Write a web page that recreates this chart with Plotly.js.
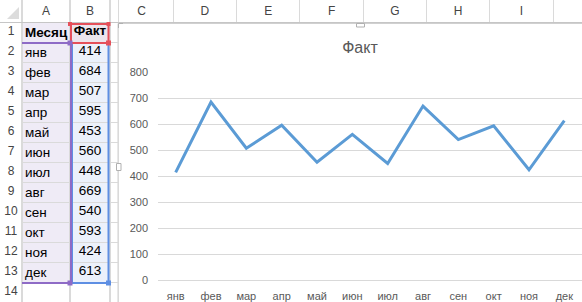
<!DOCTYPE html>
<html><head><meta charset="utf-8">
<script src="https://cdn.plot.ly/plotly-3.0.1.min.js"></script>
<style>html,body{margin:0;padding:0;background:#fff;overflow:hidden}</style>
</head><body><div id="chart" style="width:582px;height:302px"></div>
<script>
// ---- data ----
var months = ['янв','фев','мар','апр','май','июн','июл','авг','сен','окт','ноя','дек'];
var fact = [414,684,507,595,453,560,448,669,540,593,424,613];
var headerA = 'Месяц';
var headerB = 'Факт';
var chartTitle = 'Факт';
var rowLabels = ['1','2','3','4','5','6','7','8','9','10','11','12','13','14'];
var colLetters = ['A','B','C','D','E','F','G','H','I'];
var yTicks = [0,100,200,300,400,500,600,700,800];

// ---- helpers ----
var W = 582, H = 302;
function px(v){ return v / W; }
function py(v){ return 1 - v / H; }
var FAM = 'Liberation Sans, Arial, sans-serif';
var gridC = '#DADADA', hdrLine = '#C6C6C6', hdrText = '#444444', axText = '#595959';
var cellFont = {family: FAM, size: 13.5, color: '#000000'};
var colW = 63.3;
var ROWCOL = 'row';

var bodyRows = rowLabels.slice(0, months.length + 1);

function dummy(xa, ya, xs, ys){
  return {type:'scatter', mode:'markers', x: xs, y: ys, xaxis: xa, yaxis: ya,
          marker:{opacity:0, size:1}, hoverinfo:'skip', showlegend:false};
}

var traces = [];
// chart line
traces.push({type:'scatter', mode:'lines', x: months, y: fact, xaxis:'x', yaxis:'y',
  line:{color:'#5B9BD5', width:3}, hoverinfo:'skip', showlegend:false});
// row numbers
traces.push({type:'scatter', mode:'text', xaxis:'x2', yaxis:'y2',
  x: rowLabels.map(function(){ return ROWCOL; }), y: rowLabels, text: rowLabels,
  textposition:'middle center', textfont:{family: FAM, size: 12, color: hdrText},
  hoverinfo:'skip', showlegend:false, cliponaxis:false});
// column B values
traces.push({type:'scatter', mode:'text', xaxis:'x4', yaxis:'y2',
  x: bodyRows.map(function(){ return colLetters[1]; }), y: bodyRows,
  text: ['<b>' + headerB + '</b>'].concat(fact.map(String)),
  textposition:'middle center', textfont: cellFont, hoverinfo:'skip', showlegend:false, cliponaxis:false});
// invisible anchors so every sheet subplot exists
traces.push(dummy('x3','y2',[colLetters[0]],[rowLabels[0]]));
traces.push(dummy('x5','y2',[colLetters[2]],[rowLabels[0]]));
traces.push(dummy('x2','y3',[ROWCOL],['hdr']));
traces.push(dummy('x3','y3',[colLetters[0]],['hdr']));
traces.push(dummy('x4','y3',[colLetters[1]],['hdr']));
traces.push(dummy('x5','y3',[colLetters[2]],['hdr']));
traces.push(dummy('x6','y3',colLetters.slice(2),colLetters.slice(2).map(function(){return 'hdr';})));

function colAxis(dom, cats, rng, showLabels){
  return {type:'category', categoryorder:'array', categoryarray: cats, domain: dom,
    range: rng, autorange:false, anchor:'y3', side:'bottom', tickson:'boundaries',
    showgrid:true, gridcolor: gridC, gridwidth:1, ticks:'', showline:true, linecolor: hdrLine, linewidth:1,
    showticklabels: showLabels, ticklabelposition:'inside', ticklabelstandoff: 4,
    tickfont:{family: FAM, size: 12, color: hdrText}, fixedrange:true};
}

// column A texts (left aligned in the cell)
var annotations = [headerA].concat(months).map(function(t, i){
  return {xref:'x3', yref:'y2', x: colLetters[0], y: i, text: i === 0 ? '<b>' + t + '</b>' : t,
    xanchor:'left', yanchor:'middle', xshift:-23, showarrow:false, font: cellFont};
});

function rectPx(x0,y0,x1,y1,opts){
  var s = {type:'rect', xref:'paper', yref:'paper', x0:px(x0), x1:px(x1), y0:py(y1), y1:py(y0), layer:'above'};
  for (var k in opts) s[k] = opts[k];
  return s;
}
function pathPx(pts, opts){
  var d = pts.map(function(p, i){ return (i ? 'L' : 'M') + px(p[0]) + ',' + py(p[1]); }).join(' ');
  var s = {type:'path', xref:'paper', yref:'paper', path: d, layer:'above'};
  for (var k in opts) s[k] = opts[k];
  return s;
}

var purple = '#8E6BC6', red = '#E5505A', blue = '#5E8FE3';
var shapes = [
  // cell fills
  {type:'rect', xref:'x3 domain', yref:'y2', x0:0, x1:1, y0:-0.5, y1:12.5, fillcolor:'#EFEBF6', line:{width:0}, layer:'below'},
  {type:'rect', xref:'x4 domain', yref:'y2', x0:0, x1:1, y0:-0.5, y1:0.5, fillcolor:'#ECE5EC', line:{width:0}, layer:'below'},
  {type:'rect', xref:'x4 domain', yref:'y2', x0:0, x1:1, y0:0.5, y1:12.5, fillcolor:'#ECF1FB', line:{width:0}, layer:'below'},
  // corner triangle
  pathPx([[19,7],[19,19],[7,19],[19,7]], {fillcolor:'#DCDCDC', line:{width:0}}),
  // chart area border
  {type:'rect', xref:'paper', yref:'paper', x0:px(118), x1:1.05, y0:-0.05, y1:py(23.5),
    line:{color:'#D0D0D0', width:1}, fillcolor:'#FFFFFF', layer:'below'},
  // range borders
  rectPx(72, 43, 108.5, 283, {line:{color: blue, width:2}, fillcolor:'rgba(0,0,0,0)'}),
  pathPx([[22,43],[71,43],[71,283],[22,283]], {line:{color: purple, width:2}}),
  rectPx(71, 24, 108.5, 43, {line:{color: red, width:2}, fillcolor:'rgba(0,0,0,0)'}),
  // handles
  rectPx(67.5, 40.5, 72.5, 45.5, {fillcolor: purple, line:{width:0}}),
  rectPx(67.5, 280.5, 72.5, 285.5, {fillcolor: purple, line:{width:0}}),
  rectPx(106, 40.5, 111, 45.5, {fillcolor: red, line:{width:0}}),
  rectPx(68, 22, 72, 26, {fillcolor: red, line:{width:0}}),
  rectPx(106.5, 22, 110.5, 26, {fillcolor: red, line:{width:0}}),
  rectPx(106, 280.5, 111, 285.5, {fillcolor: blue, line:{width:0}}),
  // chart sizing handles
  rectPx(356.5, 23.5, 364.5, 27, {fillcolor:'#FFFFFF', line:{color:'#B0B0B0', width:1}}),
  rectPx(116.5, 163.5, 121, 170.5, {fillcolor:'#FFFFFF', line:{color:'#B0B0B0', width:1}}),
  pathPx([[118.5,28],[118.5,23.5],[123,23.5]], {line:{color:'#B0B0B0', width:1}})
];

var layout = {
  width: W, height: H, margin:{l:0, r:0, t:0, b:0, pad:0},
  paper_bgcolor:'#FFFFFF', plot_bgcolor:'rgba(0,0,0,0)',
  showlegend:false, hovermode:false, dragmode:false,
  font:{family: FAM, color: axText},
  title:{text: chartTitle, font:{family: FAM, size:16, color: axText},
    x: px(360), xanchor:'center', xref:'paper', y: py(47), yanchor:'middle', yref:'paper'},
  xaxis:{type:'category', range:[-0.5, 11.5], autorange:false, domain:[px(158), 1], anchor:'y',
    showgrid:false, ticks:'', showline:false,
    tickfont:{family: FAM, size:11, color: axText}, ticklabelstandoff: 8, fixedrange:true},
  yaxis:{range:[0, 800], autorange:false, domain:[py(280), py(72)], anchor:'x', tickvals: yTicks, ticks:'',
    showgrid:true, gridcolor:'#D9D9D9', gridwidth:1, zeroline:true, zerolinecolor:'#D9D9D9', zerolinewidth:1,
    showline:false, tickfont:{family: FAM, size:11, color: axText}, ticklabelstandoff: 9, fixedrange:true},
  yaxis2:{type:'category', categoryorder:'array', categoryarray: rowLabels, range:[13.5, -0.5], autorange:false,
    domain:[0, py(22)], anchor:'x2', side:'left', tickson:'boundaries', showgrid:true, gridcolor: gridC,
    ticks:'', showticklabels:false, showline:true, linecolor: gridC, linewidth:1, mirror:'all',
    zeroline:false, fixedrange:true},
  yaxis3:{type:'category', categoryorder:'array', categoryarray:['hdr'], range:[-0.5, 0.5], autorange:false,
    domain:[py(22), 1], anchor:'x2', showgrid:false, showticklabels:false, showline:true, linecolor: gridC,
    linewidth:1, mirror:'all', zeroline:false, ticks:'', fixedrange:true},
  xaxis2: colAxis([0, px(22)], [ROWCOL], [-0.5, 0.5], false),
  xaxis3: colAxis([px(22), px(70)], [colLetters[0]], [-0.5, 0.5], true),
  xaxis4: colAxis([px(70), px(110)], [colLetters[1]], [-0.5, 0.5], true),
  xaxis5: colAxis([px(110), px(118)], [colLetters[2]], [-0.5, -0.5 + 8 / colW], false),
  xaxis6: colAxis([px(110), 1], colLetters.slice(2), [-0.5, -0.5 + (W - 110) / colW], true),
  annotations: annotations,
  shapes: shapes
};

Plotly.newPlot('chart', traces, layout, {staticPlot:true, displayModeBar:false});
</script>
</body></html>
